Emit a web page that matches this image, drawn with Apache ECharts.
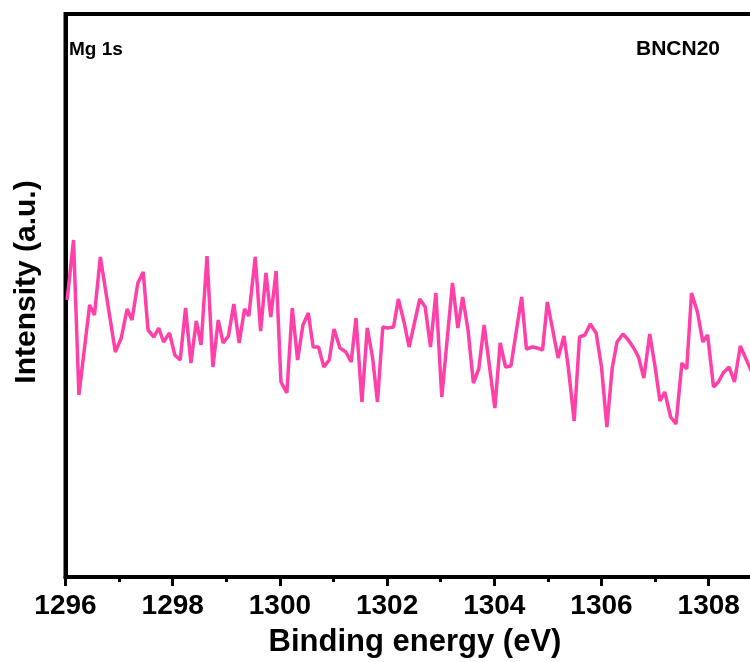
<!DOCTYPE html>
<html>
<head>
<meta charset="utf-8">
<script src="https://cdn.jsdelivr.net/npm/echarts@6/dist/echarts.min.js"></script>
<style>
  html, body { margin: 0; padding: 0; background: #fff; }
  #chart { width: 750px; height: 662px; }
</style>
</head>
<body>
<div id="chart"></div>
<script>
// binding energy (eV)
const energy = [
  1296.03, 1296.15, 1296.25, 1296.45, 1296.54, 1296.65, 1296.93, 1297.04, 1297.15, 1297.24,
  1297.35, 1297.45, 1297.54, 1297.65, 1297.74, 1297.83, 1297.94, 1298.04, 1298.14, 1298.24,
  1298.34, 1298.44, 1298.53, 1298.64, 1298.75, 1298.85, 1298.94, 1299.04, 1299.14, 1299.24,
  1299.34, 1299.42, 1299.54, 1299.64, 1299.74, 1299.83, 1299.93, 1300.02, 1300.13, 1300.23,
  1300.33, 1300.43, 1300.53, 1300.62, 1300.72, 1300.82, 1300.92, 1301.01, 1301.12, 1301.23,
  1301.33, 1301.42, 1301.53, 1301.63, 1301.73, 1301.82, 1301.92, 1302.01, 1302.12, 1302.21,
  1302.32, 1302.41, 1302.51, 1302.61, 1302.71, 1302.81, 1302.91, 1303.02, 1303.22, 1303.32,
  1303.41, 1303.51, 1303.61, 1303.71, 1303.81, 1304.01, 1304.11, 1304.21, 1304.31, 1304.51,
  1304.60, 1304.71, 1304.80, 1304.90, 1304.99, 1305.19, 1305.30, 1305.38, 1305.49, 1305.59,
  1305.69, 1305.79, 1305.90, 1306.00, 1306.10, 1306.20, 1306.29, 1306.40, 1306.50, 1306.60,
  1306.69, 1306.79, 1306.90, 1307.00, 1307.09, 1307.18, 1307.29, 1307.39, 1307.50, 1307.59,
  1307.68, 1307.79, 1307.89, 1307.98, 1308.09, 1308.18, 1308.27, 1308.38, 1308.48, 1308.59,
  1308.68, 1308.77, 1308.85
];
// intensity (a.u.)
const intensity = [
  277, 337, 182, 272, 262, 320, 225, 239, 268, 257,
  294, 305, 247, 240, 249, 235, 244, 222, 217, 269,
  214, 256, 232, 321, 210, 257, 234, 241, 273, 234,
  268, 261, 320, 246, 304, 260, 306, 195, 184, 269,
  217, 252, 264, 230, 230, 210, 217, 248, 229, 225,
  215, 259, 175, 249, 219, 175, 250, 249, 250, 278,
  254, 230, 254, 278, 270, 230, 284, 180, 294, 249,
  280, 247, 194, 208, 252, 169, 234, 210, 211, 280,
  228, 230, 229, 227, 275, 219, 241, 210, 156, 240,
  242, 253, 244, 210, 150, 209, 235, 243, 237, 229,
  220, 199, 243, 210, 176, 185, 160, 153, 214, 208,
  284, 265, 235, 242, 190, 195, 204, 210, 195, 231,
  220, 209, 200
];
const xTicks = [1296, 1298, 1300, 1302, 1304, 1306, 1308, 1310];

const chart = echarts.init(document.getElementById('chart'));
const font = 'Liberation Sans, Arial, sans-serif';

const option = {
  animation: false,
  backgroundColor: '#fff',
  grid: {
    left: 65.5,
    top: 14,
    width: 750.4,
    height: 563,
    outerBoundsMode: 'none',
    containLabel: false,
    show: true,
    borderColor: '#000',
    borderWidth: 4,
    backgroundColor: 'transparent'
  },
  xAxis: {
    type: 'value',
    min: xTicks[0],
    max: xTicks[xTicks.length - 1],
    interval: 2,
    axisLine: { lineStyle: { color: '#000', width: 4 } },
    axisTick: { inside: false, length: 9, lineStyle: { color: '#000', width: 3 } },
    minorTick: { show: true, splitNumber: 2, length: 5, lineStyle: { color: '#000', width: 3 } },
    splitLine: { show: false },
    axisLabel: {
      color: '#000', fontFamily: font, fontWeight: 'bold', fontSize: 28, margin: 15,
      formatter: (v) => String(v)
    }
  },
  yAxis: {
    type: 'value',
    min: 0,
    max: 563,
    axisLine: { show: true, lineStyle: { color: '#000', width: 4 } },
    axisTick: { show: false },
    axisLabel: { show: false },
    splitLine: { show: false }
  },
  graphic: [
    {
      type: 'text', left: 69, top: 40,
      style: { text: 'Mg 1s', font: 'bold 19px ' + font, fill: '#000' }
    },
    {
      type: 'text', right: 30, top: 39,
      style: { text: 'BNCN20', font: 'bold 21px ' + font, fill: '#000' }
    },
    {
      type: 'text', x: 415, y: 642,
      style: {
        text: 'Binding energy (eV)', font: 'bold 31px ' + font, fill: '#000',
        align: 'center', verticalAlign: 'middle'
      }
    },
    {
      type: 'text', x: 27, y: 282, rotation: Math.PI / 2,
      style: {
        text: 'Intensity (a.u.)', font: 'bold 30px ' + font, fill: '#000',
        align: 'center', verticalAlign: 'middle'
      }
    }
  ],
  series: [
    {
      type: 'line',
      data: energy.map((e, i) => [e, intensity[i]]),
      showSymbol: false,
      lineStyle: { color: '#ff40a8', width: 3.5 },
      clip: true
    }
  ]
};

chart.setOption(option);
</script>
</body>
</html>
